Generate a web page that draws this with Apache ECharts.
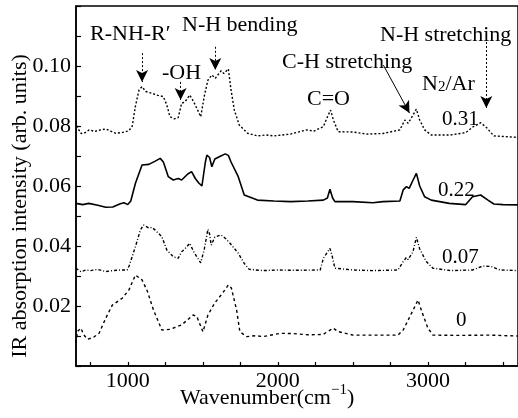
<!DOCTYPE html>
<html>
<head>
<meta charset="utf-8">
<script src="https://cdn.jsdelivr.net/npm/echarts@6/dist/echarts.min.js"></script>
<style>html,body{margin:0;padding:0;background:#fff}#c{width:518px;height:418px}</style>
</head>
<body>
<div id="c"></div>
<script>
// N2/Ar ratio labels
const ratios = ['0.31', '0.22', '0.07', '0'];
// Spectra: [wavenumber (cm^-1), IR absorption intensity]
const curve031 = [[655,0.0814],[662,0.0800],[670,0.0790],[690,0.0775],[710,0.0776],[743,0.0787],[780,0.0782],[800,0.0785],[853,0.0790],[890,0.0782],[919,0.0776],[960,0.0778],[1007,0.0784],[1030,0.0800],[1050,0.0864],[1075,0.0920],[1095,0.0931],[1120,0.0915],[1161,0.0909],[1200,0.0902],[1237,0.0898],[1260,0.0870],[1281,0.0831],[1310,0.0824],[1336,0.0828],[1359,0.0876],[1380,0.0880],[1413,0.0903],[1440,0.0880],[1486,0.0831],[1510,0.0900],[1534,0.0953],[1560,0.0970],[1583,0.0959],[1622,0.0984],[1640,0.0975],[1670,0.0990],[1688,0.0920],[1710,0.0853],[1743,0.0803],[1798,0.0776],[1864,0.0767],[1920,0.0770],[1974,0.0767],[2084,0.0773],[2193,0.0787],[2240,0.0783],[2303,0.0798],[2330,0.0830],[2351,0.0853],[2370,0.0820],[2402,0.0781],[2500,0.0780],[2593,0.0773],[2700,0.0775],[2813,0.0787],[2846,0.0820],[2868,0.0809],[2901,0.0837],[2923,0.0856],[2945,0.0820],[2978,0.0787],[3022,0.0770],[3150,0.0770],[3252,0.0778],[3297,0.0796],[3351,0.0811],[3390,0.0795],[3439,0.0767],[3500,0.0765],[3600,0.0762]];
const curve022 = [[655,0.0542],[700,0.0538],[740,0.0542],[800,0.0536],[853,0.0529],[900,0.0530],[950,0.0541],[975,0.0544],[1000,0.0538],[1020,0.0550],[1051,0.0609],[1095,0.0670],[1140,0.0672],[1183,0.0683],[1216,0.0692],[1237,0.0680],[1270,0.0631],[1303,0.0620],[1336,0.0625],[1359,0.0620],[1400,0.0640],[1425,0.0648],[1450,0.0625],[1473,0.0610],[1494,0.0600],[1517,0.0680],[1527,0.0703],[1545,0.0695],[1560,0.0664],[1580,0.0690],[1620,0.0700],[1649,0.0707],[1670,0.0702],[1688,0.0680],[1736,0.0631],[1776,0.0570],[1864,0.0553],[1974,0.0550],[2084,0.0548],[2200,0.0550],[2303,0.0553],[2330,0.0560],[2347,0.0589],[2365,0.0560],[2380,0.0548],[2500,0.0548],[2633,0.0544],[2700,0.0548],[2813,0.0550],[2835,0.0587],[2857,0.0598],[2875,0.0592],[2901,0.0620],[2923,0.0642],[2945,0.0600],[2978,0.0564],[3022,0.0553],[3142,0.0542],[3252,0.0538],[3297,0.0564],[3351,0.0570],[3400,0.0553],[3439,0.0540],[3500,0.0538],[3600,0.0537]];
const curve007 = [[655,0.0326],[688,0.0314],[720,0.0320],[750,0.0318],[800,0.0322],[853,0.0315],[900,0.0318],[950,0.0320],[996,0.0320],[1010,0.0335],[1051,0.0398],[1084,0.0453],[1105,0.0470],[1140,0.0460],[1161,0.0462],[1183,0.0453],[1227,0.0431],[1260,0.0387],[1303,0.0364],[1336,0.0359],[1359,0.0381],[1380,0.0390],[1413,0.0409],[1440,0.0380],[1486,0.0344],[1510,0.0390],[1534,0.0456],[1545,0.0440],[1556,0.0403],[1580,0.0430],[1622,0.0437],[1649,0.0426],[1680,0.0410],[1736,0.0376],[1776,0.0342],[1809,0.0322],[1900,0.0318],[2000,0.0320],[2100,0.0319],[2282,0.0320],[2303,0.0359],[2347,0.0392],[2360,0.0370],[2380,0.0326],[2500,0.0320],[2633,0.0318],[2800,0.0320],[2835,0.0348],[2857,0.0362],[2868,0.0355],[2900,0.0380],[2923,0.0429],[2945,0.0390],[2989,0.0348],[3033,0.0326],[3150,0.0318],[3297,0.0320],[3363,0.0333],[3420,0.0332],[3480,0.0320],[3600,0.0318]];
const curve000 = [[655,0.0076],[665,0.0115],[688,0.0126],[705,0.0105],[732,0.0089],[770,0.0095],[809,0.0109],[853,0.0159],[897,0.0203],[963,0.0226],[1007,0.0253],[1051,0.0303],[1095,0.0287],[1130,0.0250],[1171,0.0187],[1227,0.0120],[1280,0.0122],[1359,0.0137],[1435,0.0170],[1460,0.0165],[1501,0.0114],[1534,0.0170],[1578,0.0209],[1622,0.0237],[1649,0.0255],[1670,0.0270],[1690,0.0260],[1725,0.0187],[1747,0.0114],[1791,0.0098],[1850,0.0101],[1900,0.0098],[2018,0.0109],[2100,0.0108],[2200,0.0104],[2300,0.0105],[2369,0.0126],[2400,0.0115],[2500,0.0103],[2633,0.0103],[2800,0.0103],[2835,0.0120],[2879,0.0164],[2934,0.0220],[2960,0.0180],[3000,0.0126],[3033,0.0103],[3200,0.0102],[3400,0.0103],[3600,0.0100]];
// x axis ticks
const xLabelTicks = [1000, 2000, 3000];
const xMinorTicks = [750, 1000, 1250, 1500, 1750, 2000, 2250, 2500, 2750, 3000, 3250, 3500];
// annotation arrows: [[x1,y1],[x2,y2], solid?]
const arrows = [
  [[1095,0.1043],[1095,0.0947],false],
  [[1352,0.0947],[1352,0.0887],false],
  [[1583,0.1064],[1583,0.0987],false],
  [[2703,0.1003],[2877,0.0843],true],
  [[3389,0.1080],[3389,0.0860],false]
];

const FONT = 'Liberation Serif';
const chart = echarts.init(document.getElementById('c'));

function txt(x, y, text, size, rich) {
  const st = {text: text, fontSize: size, fontFamily: FONT, fill: '#000', align: 'left', verticalAlign: 'middle'};
  if (rich) st.rich = rich;
  return {type: 'text', x: x, y: y, style: st, z: 100};
}
const supRich = {
  n: {fontSize: 22, fontFamily: FONT, fill: '#000', lineHeight: 26, verticalAlign: 'bottom'},
  sup: {fontSize: 15, fontFamily: FONT, fill: '#000', lineHeight: 26, verticalAlign: 'top'},
  sub: {fontSize: 15, fontFamily: FONT, fill: '#000', lineHeight: 30, verticalAlign: 'bottom'}
};

const lineBase = {type: 'line', showSymbol: false, symbol: 'none', smooth: false, animation: false};
const series = [
  Object.assign({}, lineBase, {name: ratios[0], data: curve031, lineStyle: {color: '#000', width: 1.4, type: [2, 2]},
    markLine: {silent: true, symbol: ['none', 'arrow'], symbolSize: [9, 12], label: {show: false}, animation: false,
      data: arrows.map(a => [
        {coord: a[0], lineStyle: {color: '#000', width: 1, type: a[2] ? 'solid' : [2, 2]}},
        {coord: a[1], lineStyle: {color: '#000', width: 1, type: a[2] ? 'solid' : [2, 2]}}
      ])}}),
  Object.assign({}, lineBase, {name: ratios[1], data: curve022, lineStyle: {color: '#000', width: 1.6, type: 'solid'}}),
  Object.assign({}, lineBase, {name: ratios[2], data: curve007, lineStyle: {color: '#000', width: 1.4, type: [3, 2, 1, 2]}}),
  Object.assign({}, lineBase, {name: ratios[3], data: curve000, lineStyle: {color: '#000', width: 1.4, type: [3, 3]}})
];

chart.setOption({
  animation: false,
  backgroundColor: '#fff',
  grid: {left: 76, top: 6, width: 447, height: 360, show: true, borderColor: '#000', borderWidth: 1.5, backgroundColor: 'transparent'},
  xAxis: {
    type: 'value', min: 655, max: 3600,
    axisLine: {lineStyle: {color: '#000', width: 1.5}},
    axisTick: {inside: true, length: 4, customValues: xMinorTicks, lineStyle: {color: '#000', width: 1.2}},
    axisLabel: {customValues: xLabelTicks, color: '#000', fontFamily: FONT, fontSize: 22, margin: 4,
      formatter: v => String(Math.round(v))},
    splitLine: {show: false}
  },
  yAxis: {
    type: 'value', min: 0, max: 0.12, interval: 0.02,
    axisLine: {lineStyle: {color: '#000', width: 1.5}},
    axisTick: {inside: true, length: 5, lineStyle: {color: '#000', width: 1.2}},
    minorTick: {show: true, splitNumber: 2, length: 5, lineStyle: {color: '#000', width: 1.2}},
    axisLabel: {color: '#000', fontFamily: FONT, fontSize: 22, margin: 5,
      formatter: v => (v < 0.001 || v > 0.115) ? '' : v.toFixed(2)},
    splitLine: {show: false}
  },
  series: series,
  graphic: [
    txt(90, 34, 'R-NH-R\u2032', 22),
    txt(182, 25, 'N-H bending', 22),
    txt(162, 73, '-OH', 22),
    txt(307, 99, 'C=O', 22),
    txt(282, 62, 'C-H stretching', 22),
    txt(380, 35, 'N-H stretching', 22),
    txt(422, 80, '{n|N}{sub|2}{n|/Ar}', 22, supRich),
    txt(442, 119, ratios[0], 21),
    txt(438, 190, ratios[1], 21),
    txt(442, 257, ratios[2], 21),
    txt(456, 320, ratios[3], 21),
    txt(180, 396, '{n|Wavenumber(cm}{sup|\u22121}{n|)}', 22, supRich),
    {type: 'text', x: 20, y: 206, rotation: Math.PI / 2, z: 100,
      style: {text: 'IR absorption intensity (arb. units)', fontSize: 22, fontFamily: FONT, fill: '#000', align: 'center', verticalAlign: 'middle'}}
  ]
});
</script>
</body>
</html>
